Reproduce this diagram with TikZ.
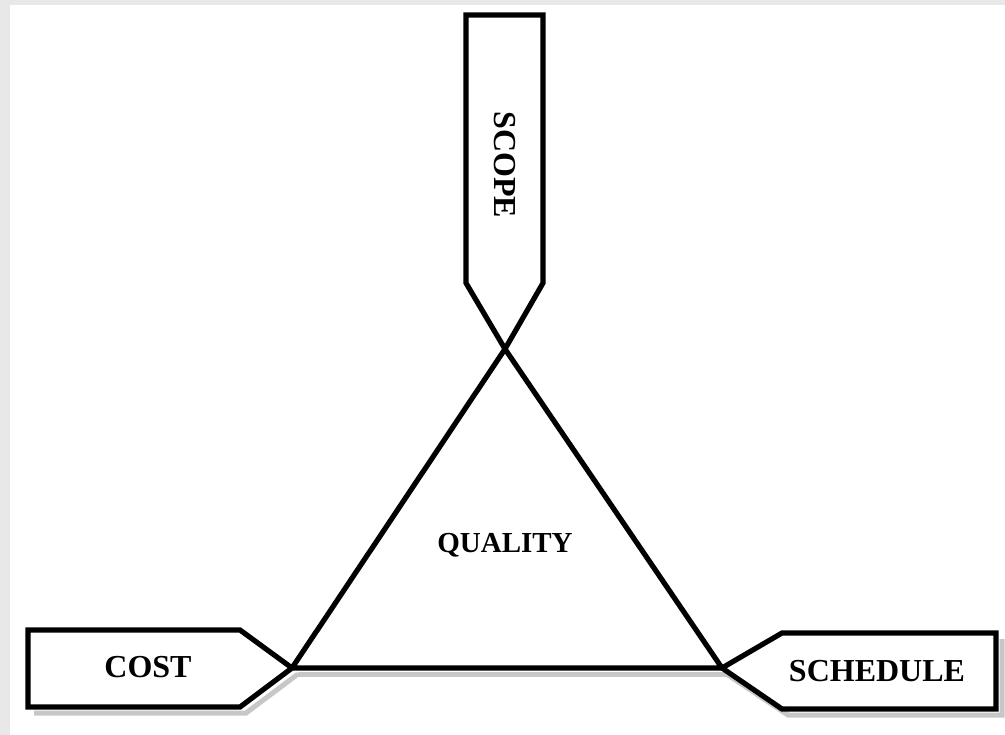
\documentclass[tikz,border=0pt]{standalone}
\usepackage{fontspec}
\setmainfont{Liberation Serif}
\begin{document}
\begin{tikzpicture}[x=1pt,y=-1pt,
  outline/.style={draw=black,line width=5.2pt,line join=miter},
  shade/.style={draw=black!22,line width=5pt},
  lbl/.style={font=\bfseries\fontsize{32}{32}\selectfont,inner sep=0pt}]
\useasboundingbox (0,0) rectangle (1005,735);
\fill[black!9] (0,0) rectangle (1005,735);
\fill[white] (10,5) rectangle (1005,735);
% vertices
\coordinate (A) at (505,349);
\coordinate (L) at (292,668);
\coordinate (R) at (722,668);
% shadows
\draw[shade] (34,713) -- (246,713) -- (298,674);
\draw[shade] (728,675) -- (788,715) -- (1002,715) -- (1002,639);
\draw[shade] (298,674) -- (728,674);
% scope pentagon
\draw[outline] (A) -- (466,283) -- (466,15) -- (543,15) -- (543,283) -- cycle;
% cost pentagon
\draw[outline] (L) -- (240,630) -- (28,630) -- (28,707) -- (240,707) -- cycle;
% schedule pentagon
\draw[outline] (R) -- (782,633) -- (996,633) -- (996,709) -- (782,709) -- cycle;
% triangle
\draw[outline] (A) -- (L) -- (R) -- cycle;
% labels
\node[lbl,rotate=-90] (scope) at (505,165) {SCOPE};
\node[lbl] (cost) at (148,667) {COST};
\node[lbl] (schedule) at (877,671) {SCHEDULE};
\node[lbl,font=\bfseries\fontsize{29}{29}\selectfont] (quality) at (505,545) {QUALITY};
\end{tikzpicture}
\end{document}
